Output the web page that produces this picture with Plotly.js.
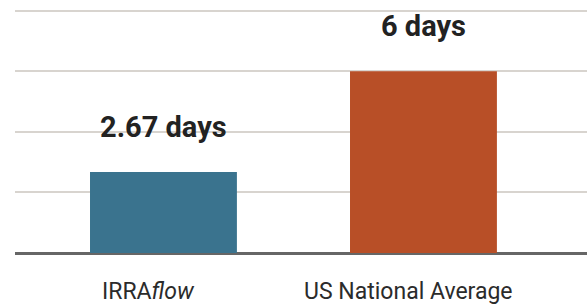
<!DOCTYPE html>
<html>
<head>
<meta charset="utf-8">
<script src="https://cdn.plot.ly/plotly-3.0.1.min.js"></script>
<style>html,body{margin:0;padding:0;background:#fff;}#chart{width:587px;height:307px;}</style>
</head>
<body>
<div id="chart"></div>
<script>
const categories = ['IRRAflow', 'US National Average'];
const tickLabels = ['IRRA<i>flow</i>', 'US National Average'];
const values = [2.67, 6];
const valueLabels = ['2.67 days', '6 days'];
const colors = ['#3a738e', '#b84f27'];

const trace = {
  type: 'bar',
  x: categories,
  y: values,
  width: 0.565,
  marker: {color: colors},
  hoverinfo: 'none'
};

const valueAnnotations = categories.map((c, i) => ({
  x: c, y: values[i], xref: 'x', yref: 'y',
  text: '<b>' + valueLabels[i] + '</b>',
  showarrow: false, yanchor: 'middle', yshift: 45,
  font: {family: 'Roboto', size: 29, color: '#222'}
}));

const categoryAnnotations = categories.map((c, i) => ({
  x: c, y: 0, xref: 'x', yref: 'y',
  text: tickLabels[i],
  showarrow: false, yanchor: 'middle', yshift: -38, xshift: -15,
  font: {family: 'Roboto', size: 23, color: '#2b2b2b'}
}));

const layout = {
  width: 587, height: 307,
  margin: {l: 15, r: 0, t: 9, b: 54},
  paper_bgcolor: '#fff', plot_bgcolor: '#fff',
  showlegend: false,
  xaxis: {
    type: 'category',
    range: [-0.571, 1.629],
    showticklabels: false,
    ticks: '', showgrid: false, zeroline: false, showline: false
  },
  yaxis: {
    range: [0, 8.05],
    dtick: 2, tick0: 0,
    showticklabels: false, ticks: '',
    showgrid: true, gridcolor: '#d8d4cf', gridwidth: 2,
    zeroline: true, zerolinecolor: '#666', zerolinewidth: 3,
    showline: false
  },
  annotations: valueAnnotations.concat(categoryAnnotations)
};

Plotly.newPlot('chart', [trace], layout, {displayModeBar: false, staticPlot: true});
</script>
</body>
</html>
